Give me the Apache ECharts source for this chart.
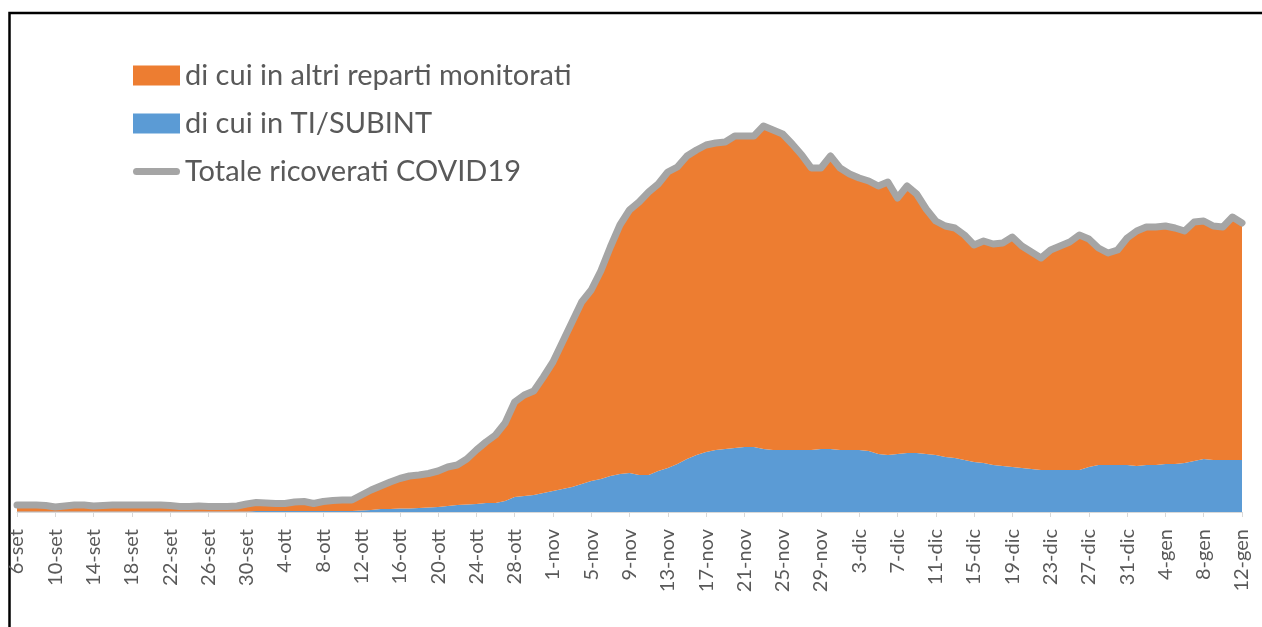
<!DOCTYPE html>
<html>
<head>
<meta charset="utf-8">
<title>Ricoverati COVID19</title>
<script src="https://cdn.jsdelivr.net/npm/echarts@6/dist/echarts.min.js"></script>
<style>
  html, body { margin: 0; padding: 0; background: #fff; }
  #chart { width: 1262px; height: 627px; }
</style>
</head>
<body>
<div id="chart"></div>
<script>
// giorni dal 6 settembre al 12 gennaio
const mesi = [
  { nome: 'set', da: 6, a: 30 },
  { nome: 'ott', da: 1, a: 31 },
  { nome: 'nov', da: 1, a: 30 },
  { nome: 'dic', da: 1, a: 31 },
  { nome: 'gen', da: 1, a: 12 }
]
const giorni = []
mesi.forEach(m => {
  for (let d = m.da; d <= m.a; d++) giorni.push(d + '-' + m.nome)
})

// totale ricoverati
const totale = [
  70, 70, 70, 65, 50, 60, 70, 70, 60, 65, 70, 70, 70, 70, 70, 70, 65, 55, 55, 60, 55, 55, 55, 60, 80,
  95, 90, 85, 85, 100, 105, 85, 105, 115, 120, 120,
  170, 220, 260, 300, 335, 360, 370, 385, 410, 450, 470, 530, 620, 700, 770, 890, 1100, 1170, 1210, 1350,
  1500, 1700, 1900, 2100, 2220, 2410, 2650, 2870, 3020, 3100, 3200, 3280, 3400, 3450, 3560, 3620, 3670, 3690, 3700, 3760,
  3760, 3760, 3860, 3820, 3780, 3680, 3570, 3440, 3440, 3560, 3440, 3380, 3340, 3310, 3260, 3300, 3140, 3260, 3180, 3030,
  2910, 2860, 2840, 2770, 2670, 2710, 2680, 2690, 2750, 2660, 2600, 2540, 2620, 2660, 2700, 2770, 2730, 2640, 2590, 2620,
  2740, 2810, 2850, 2850, 2860, 2840, 2810, 2900, 2910, 2860, 2850, 2950, 2890
]

// di cui in TI/SUBINT
const terapiaIntensiva = [
  5, 5, 5, 5, 5, 5, 5, 5, 5, 5, 5, 5, 5, 5, 5, 5, 5, 5, 5, 5, 5, 5, 5, 5, 5,
  10, 10, 10, 10, 10, 10, 10, 10, 10, 10, 10,
  15, 20, 30, 30, 35, 35, 40, 45, 50, 60, 70, 75, 80, 90, 90, 110, 150, 160, 170, 190,
  210, 230, 250, 280, 310, 330, 360, 380, 390, 370, 370, 410, 440, 480, 530, 570, 600, 620, 630, 640,
  650, 650, 630, 620, 620, 620, 620, 620, 630, 630, 620, 620, 620, 610, 580, 570, 580, 590, 590, 580,
  570, 550, 540, 520, 500, 490, 470, 460, 450, 440, 430, 420, 420, 420, 420, 420, 450, 470, 470, 470,
  470, 460, 470, 470, 480, 480, 490, 510, 530, 520, 520, 520, 520
]

// di cui in altri reparti = totale - TI
const altriReparti = totale.map((v, i) => v - terapiaIntensiva[i])

const nomeAltri = 'di cui in altri reparti monitorati'
const nomeTI = 'di cui in TI/SUBINT'
const nomeTotale = 'Totale ricoverati COVID19'

let myChart = echarts.init(document.getElementById('chart'))
myChart.setOption({
  animation: false,
  textStyle: { fontFamily: 'Lato' },
  legend: {
    orient: 'vertical',
    left: 133,
    top: 61,
    padding: 0,
    itemWidth: 47,
    itemHeight: 20,
    itemGap: 19,
    textStyle: { fontSize: 29, color: '#595959', fontFamily: 'Lato' },
    data: [
      { name: nomeAltri, icon: 'rect' },
      { name: nomeTI, icon: 'rect' },
      { name: nomeTotale, icon: 'path://M3.5,0 L43.5,0 A3.5,3.5 0 0 1 43.5,7 L3.5,7 A3.5,3.5 0 0 1 3.5,0 Z' }
    ]
  },
  grid: { left: 17, right: 20, top: 62, bottom: 115 },
  xAxis: {
    type: 'category',
    boundaryGap: false,
    data: giorni,
    axisLine: { lineStyle: { color: '#D9D9D9' } },
    axisTick: { interval: 3, length: 5, lineStyle: { color: '#D9D9D9' } },
    axisLabel: {
      interval: 3,
      rotate: 90,
      margin: 17,
      fontSize: 20,
      color: '#595959',
      fontFamily: 'Lato'
    }
  },
  yAxis: {
    type: 'value',
    min: 0,
    max: 4500,
    show: false
  },
  series: [
    {
      name: nomeTI,
      type: 'line',
      stack: 'ricoverati',
      symbol: 'none',
      color: '#5B9BD5',
      lineStyle: { width: 0 },
      areaStyle: { color: '#5B9BD5', opacity: 1 },
      data: terapiaIntensiva
    },
    {
      name: nomeAltri,
      type: 'line',
      stack: 'ricoverati',
      symbol: 'none',
      color: '#ED7D31',
      lineStyle: { width: 0 },
      areaStyle: { color: '#ED7D31', opacity: 1 },
      data: altriReparti
    },
    {
      name: nomeTotale,
      type: 'line',
      symbol: 'none',
      color: '#A5A5A5',
      lineStyle: { width: 7, color: '#A5A5A5', join: 'round', cap: 'round' },
      data: totale
    }
  ],
  graphic: [
    {
      type: 'rect',
      shape: { x: 9.5, y: 13, width: 1400, height: 800 },
      style: { fill: 'none', stroke: '#000', lineWidth: 2.5 },
      silent: true
    }
  ]
})
</script>
</body>
</html>
